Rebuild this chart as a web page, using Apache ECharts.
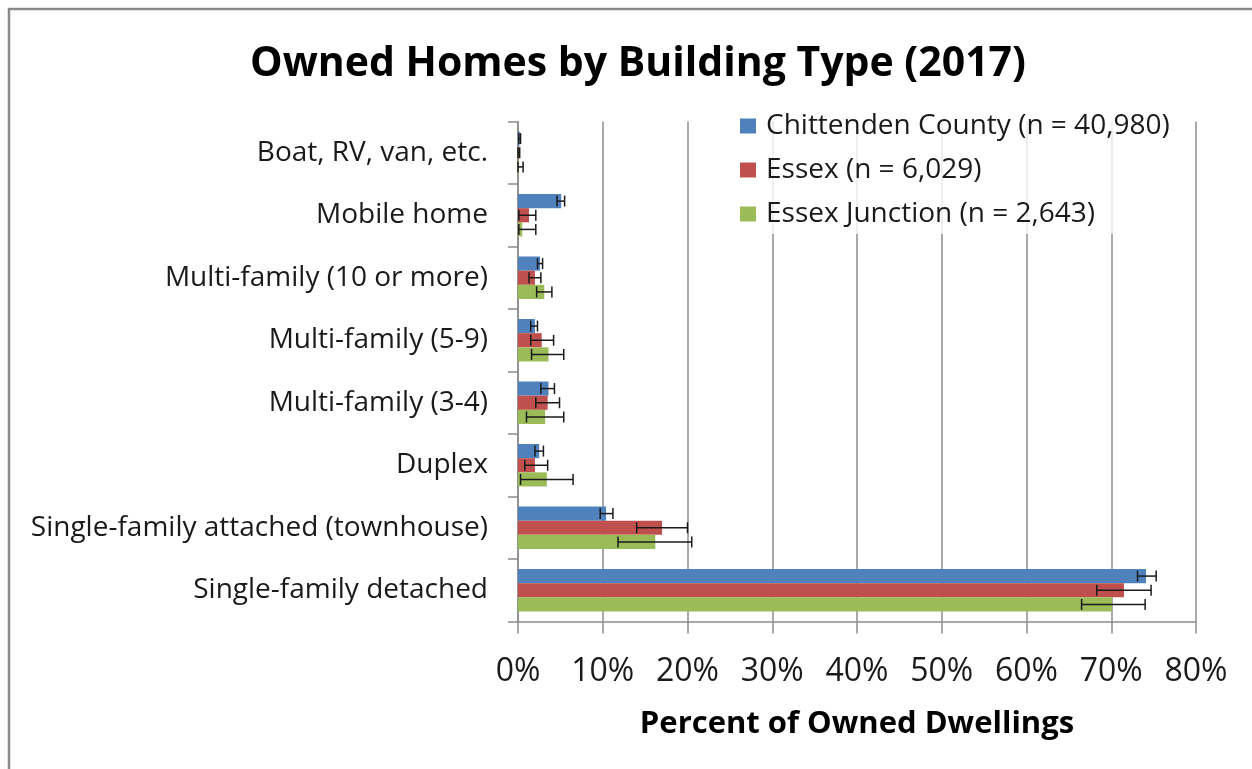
<!DOCTYPE html>
<html>
<head>
<meta charset="utf-8">
<script src="https://cdn.jsdelivr.net/npm/echarts@6/dist/echarts.min.js"></script>
<style>
  html, body { margin: 0; padding: 0; background: #ffffff; }
  #chart { width: 1252px; height: 769px; }
</style>
</head>
<body>
<div id="chart"></div>
<script>
// Building types, listed top to bottom
const categories = [
  'Boat, RV, van, etc.',
  'Mobile home',
  'Multi-family (10 or more)',
  'Multi-family (5-9)',
  'Multi-family (3-4)',
  'Duplex',
  'Single-family attached (townhouse)',
  'Single-family detached'
];

const seriesNames = [
  'Chittenden County (n = 40,980)',
  'Essex (n = 6,029)',
  'Essex Junction (n = 2,643)'
];

// Share of owned dwellings (%)
const chittenden = [0.2, 5.1, 2.6, 2.0, 3.6, 2.5, 10.4, 74.1];
const essex      = [0.1, 1.3, 2.0, 2.8, 3.5, 2.0, 17.0, 71.5];
const essexJct   = [0.1, 0.5, 3.1, 3.6, 3.2, 3.4, 16.2, 70.1];

// Margin-of-error ranges (%)
const chittendenLow  = [0.1, 4.6, 2.3, 1.5, 2.7, 2.0, 9.7, 73.1];
const chittendenHigh = [0.3, 5.5, 2.9, 2.3, 4.3, 3.0, 11.2, 75.3];
const essexLow       = [0.0, 0.1, 1.3, 1.5, 2.1, 0.8, 14.0, 68.3];
const essexHigh      = [0.2, 2.1, 2.7, 4.2, 4.9, 3.5, 20.0, 74.7];
const essexJctLow    = [0.0, 0.1, 2.2, 1.6, 1.0, 0.3, 11.8, 66.5];
const essexJctHigh   = [0.6, 2.1, 4.0, 5.4, 5.4, 6.5, 20.5, 74.0];

const xTicks = [0, 10, 20, 30, 40, 50, 60, 70, 80];

const colors = ['#4F81BD', '#C0504D', '#9BBB59'];
const values = [chittenden, essex, essexJct];
const lows = [chittendenLow, essexLow, essexJctLow];
const highs = [chittendenHigh, essexHigh, essexJctHigh];

const FONT = 'Open Sans';
const GAP = 0.32;

function errorSeries(s) {
  return {
    type: 'custom',
    name: seriesNames[s] + ' error',
    z: 5,
    silent: true,
    encode: { x: [0, 1], y: 2 },
    data: lows[s].map((lo, i) => [lo, highs[s][i], i]),
    renderItem: function (params, api) {
      const idx = api.value(2);
      const center = api.coord([0, idx])[1];
      const band = api.size([0, 1])[1];
      const barW = band * (1 - GAP) / 3;
      const y = center + (s - 1) * barW;
      const x0 = api.coord([api.value(0), idx])[0];
      const x1 = api.coord([api.value(1), idx])[0];
      const cap = 5.5;
      const style = { stroke: '#1a1a1a', lineWidth: 1.5 };
      return {
        type: 'group',
        children: [
          { type: 'line', shape: { x1: x0, y1: y, x2: x1, y2: y }, style: style },
          { type: 'line', shape: { x1: x0, y1: y - cap, x2: x0, y2: y + cap }, style: style },
          { type: 'line', shape: { x1: x1, y1: y - cap, x2: x1, y2: y + cap }, style: style }
        ]
      };
    }
  };
}

const barSeries = values.map((vals, s) => ({
  type: 'bar',
  name: seriesNames[s],
  data: vals,
  itemStyle: { color: colors[s] },
  barGap: '0%',
  barCategoryGap: (GAP * 100) + '%',
  z: 2
}));

const chart = echarts.init(document.getElementById('chart'), null, { renderer: 'canvas' });

chart.setOption({
  animation: false,
  backgroundColor: '#ffffff',
  color: colors,
  title: {
    text: 'Owned Homes by Building Type (2017)',
    left: 633,
    textAlign: 'center',
    top: 39,
    textStyle: { fontFamily: FONT, fontWeight: 'bold', fontSize: 41, color: '#000000' }
  },
  legend: {
    data: seriesNames,
    orient: 'vertical',
    left: 736,
    top: 108,
    itemWidth: 16,
    itemHeight: 15,
    itemGap: 16,
    padding: [4, 8, 6, 4],
    backgroundColor: 'rgba(255,255,255,0.8)',
    textStyle: { fontFamily: FONT, fontSize: 28, color: '#1a1a1a', padding: [0, 0, 0, 5] },
    icon: 'rect'
  },
  grid: { left: 518, right: 56, top: 121.5, bottom: 147.5, containLabel: false },
  xAxis: {
    type: 'value',
    min: 0,
    max: 80,
    interval: 10,
    name: 'Percent of Owned Dwellings',
    nameLocation: 'middle',
    nameGap: 87,
    nameTextStyle: { fontFamily: FONT, fontWeight: 'bold', fontSize: 31, color: '#000000' },
    axisLine: { show: true, lineStyle: { color: '#8c8c8c', width: 1.5 } },
    axisTick: { show: true, length: 12, lineStyle: { color: '#8c8c8c', width: 1.5 } },
    axisLabel: {
      fontFamily: FONT, fontSize: 32, color: '#1a1a1a', margin: 34,
      formatter: v => xTicks.indexOf(v) >= 0 ? v + '%' : ''
    },
    splitLine: { show: true, lineStyle: { color: '#8c8c8c', width: 1.5 } }
  },
  yAxis: {
    type: 'category',
    data: categories,
    inverse: true,
    axisLine: { show: true, lineStyle: { color: '#8c8c8c', width: 1.5 } },
    axisTick: { show: true, length: 10, lineStyle: { color: '#8c8c8c', width: 1.5 } },
    axisLabel: { fontFamily: FONT, fontSize: 28, color: '#1a1a1a', margin: 30 }
  },
  graphic: [{
    type: 'rect',
    shape: { x: 9, y: 9, width: 1400, height: 900 },
    style: { fill: 'none', stroke: '#8a8a8a', lineWidth: 2.5 },
    silent: true,
    z: 100
  }],
  series: barSeries.concat([0, 1, 2].map(errorSeries))
});
</script>
</body>
</html>
